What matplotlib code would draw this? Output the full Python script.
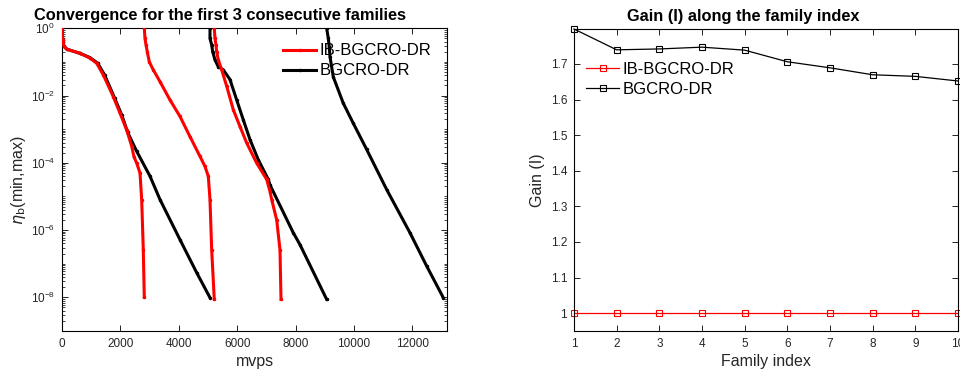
import numpy as np
import matplotlib
matplotlib.use("Agg")
import matplotlib.pyplot as plt
from matplotlib.ticker import FixedLocator, LogLocator, FuncFormatter, NullFormatter

plt.rcParams['font.family'] = ['Liberation Sans', 'DejaVu Sans']

# ---- left panel: convergence histories (mvps, eta_b) ----
ib_f1_x = [0, 24, 68, 161, 617, 959, 1189, 1415, 1757, 1987, 2216, 2388, 2467, 2559, 2672, 2730, 2785, 2819]
ib_f1_y = [1.0, 0.45, 0.29, 0.24, 0.18, 0.13, 0.091, 0.041, 9.3e-3, 3.0e-3, 9.5e-4, 3.1e-4, 1.5e-4, 9.8e-5, 5.0e-5, 8.1e-6, 2.6e-7, 1.0e-8]
ib_f2_x = [2820, 2843, 2878, 2922, 2991, 3128, 3357, 3700, 4042, 4385, 4728, 4899, 5012, 5070, 5128, 5217]
ib_f2_y = [1.0, 0.50, 0.32, 0.20, 0.10, 0.058, 0.026, 7.4e-3, 2.4e-3, 6.0e-4, 1.55e-4, 7.8e-5, 4.0e-5, 8.1e-6, 2.6e-7, 8.7e-9]
ib_f3_x = [5217, 5240, 5275, 5299, 5354, 5471, 5642, 5868, 6098, 6327, 6670, 7013, 7126, 7184, 7356, 7468, 7503]
ib_f3_y = [1.0, 0.50, 0.32, 0.20, 0.115, 0.058, 0.019, 3.8e-3, 1.2e-3, 3.9e-4, 9.8e-5, 3.2e-5, 1.4e-5, 8.1e-6, 2.0e-6, 2.6e-7, 8.7e-9]

bg_f1_x = [0, 24, 68, 161, 617, 959, 1220, 1460, 1800, 2050, 2250, 2559, 3015, 3357, 4042, 4615, 5070]
bg_f1_y = [1.0, 0.45, 0.29, 0.24, 0.18, 0.135, 0.092, 0.041, 8.5e-3, 2.6e-3, 8.0e-4, 2.2e-4, 4.0e-5, 8.1e-6, 5.2e-7, 5.4e-8, 9.8e-9]
bg_f2_x = [5070, 5070, 5128, 5163, 5241, 5354, 5526, 5755, 5985, 6211, 6441, 6725, 7068, 7126, 7924, 8153, 9068]
bg_f2_y = [1.0, 0.50, 0.32, 0.20, 0.115, 0.072, 0.058, 0.030, 7.4e-3, 1.9e-3, 4.9e-4, 1.23e-4, 3.2e-5, 2.2e-5, 8.3e-7, 3.7e-7, 8.7e-9]
bg_f3_x = [9068, 9123, 9157, 9180, 9294, 9637, 9979, 10438, 11124, 11922, 12494, 13063]
bg_f3_y = [1.0, 0.50, 0.28, 0.145, 0.036, 5.9e-3, 1.5e-3, 2.5e-4, 1.6e-5, 8.3e-7, 8.5e-8, 9.8e-9]

# ---- right panel: gain along family index ----
family_index = [1, 2, 3, 4, 5, 6, 7, 8, 9, 10]
gain_ib = [1, 1, 1, 1, 1, 1, 1, 1, 1, 1]
gain_bg = [1.798, 1.7395, 1.742, 1.747, 1.7386, 1.706, 1.689, 1.6695, 1.665, 1.652]

TXT = '#262626'

fig = plt.figure(figsize=(9.6, 3.74), dpi=100)
ax1 = fig.add_axes([62 / 960, 43 / 374, 385 / 960, 302.7 / 374])
ax2 = fig.add_axes([574 / 960, 43 / 374, 384 / 960, 302 / 374])

# left
ib_sets = [(ib_f1_x, ib_f1_y), (ib_f2_x, ib_f2_y), (ib_f3_x, ib_f3_y)]
bg_sets = [(bg_f1_x, bg_f1_y), (bg_f2_x, bg_f2_y), (bg_f3_x, bg_f3_y)]
for i, (xs, ys) in enumerate(bg_sets):
    ax1.plot(xs, ys, '-', color='black', lw=2.2, marker='.', ms=3,
             label='BGCRO-DR' if i == 0 else None, zorder=2)
for i, (xs, ys) in enumerate(ib_sets):
    ax1.plot(xs, ys, '-', color='red', lw=2.2, marker='.', ms=3,
             label='IB-BGCRO-DR' if i == 0 else None, zorder=3)

ax1.set_yscale('log')
ax1.set_xlim(0, 13190)
ax1.set_ylim(1e-9, 1)
ax1.set_xticks(np.arange(0, 13000, 2000))
ax1.yaxis.set_major_locator(FixedLocator([1e0, 1e-2, 1e-4, 1e-6, 1e-8]))
ax1.yaxis.set_minor_locator(LogLocator(base=10, subs=np.arange(1, 10), numticks=30))
ax1.yaxis.set_minor_formatter(NullFormatter())
ax1.set_title('Convergence for the first 3 consecutive families', fontsize=11.8,
              fontweight='bold', x=0.41, pad=6)
ax1.set_xlabel('mvps', fontsize=11.5, color=TXT, labelpad=3)
ax1.set_ylabel(r'$\eta_{\mathrm{b}}$(min,max)', fontsize=11.5, color=TXT, labelpad=2)
h, l = ax1.get_legend_handles_labels()
ax1.legend(h[::-1], l[::-1], loc='upper right', frameon=False, fontsize=12,
           handlelength=2.0, handletextpad=0.2, borderaxespad=0.0,
           labelspacing=0.3, bbox_to_anchor=(0.977, 0.972))

# right
ax2.plot(family_index, gain_ib, '-', color='red', lw=0.9, marker='s', ms=4,
         mfc='none', mew=0.8, label='IB-BGCRO-DR', clip_on=False)
ax2.plot(family_index, gain_bg, '-', color='black', lw=0.9, marker='s', ms=4,
         mfc='none', mew=0.8, label='BGCRO-DR', clip_on=False)
ax2.set_xlim(1, 10)
ax2.set_ylim(0.95, 1.798)
ax2.set_xticks(family_index)
ax2.set_yticks([1, 1.1, 1.2, 1.3, 1.4, 1.5, 1.6, 1.7])
ax2.yaxis.set_major_formatter(FuncFormatter(lambda v, p: '%g' % v))
ax2.set_title('Gain (I) along the family index', fontsize=11.8, fontweight='bold',
              x=0.44, pad=6)
ax2.set_xlabel('Family index', fontsize=11.5, color=TXT, labelpad=3)
ax2.set_ylabel('Gain (I)', fontsize=11.5, color=TXT, labelpad=4)
ax2.legend(loc='upper left', frameon=False, fontsize=12, handlelength=2.0,
           handletextpad=0.2, labelspacing=0.3, bbox_to_anchor=(0.014, 0.912),
           borderaxespad=0.0)

for ax in (ax1, ax2):
    ax.tick_params(which='both', direction='in', top=True, right=True,
                   labelsize=8.5, labelcolor=TXT, pad=5)
    ax.tick_params(which='major', length=4, width=0.6)
    ax.tick_params(which='minor', length=2, width=0.5)
    for s in ax.spines.values():
        s.set_linewidth(0.8)

fig.savefig('out.png', dpi=100)
